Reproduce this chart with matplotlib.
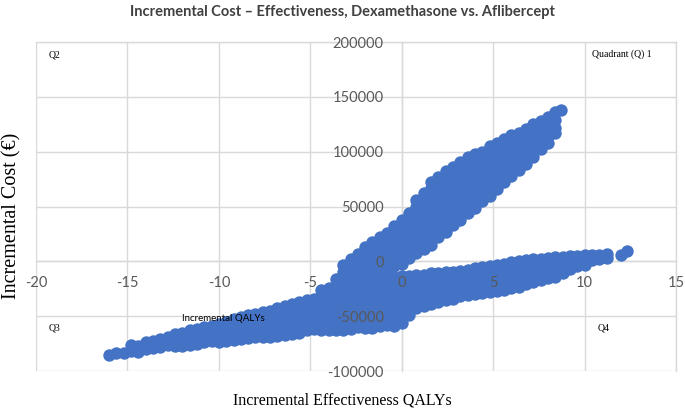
"""
Incremental cost-effectiveness plane, Dexamethasone vs. Aflibercept.
"""

import matplotlib.pyplot as plt

plt.rcParams['axes.unicode_minus'] = False

title = 'Incremental Cost – Effectiveness, Dexamethasone vs. Aflibercept'
label_x = 'Incremental Effectiveness QALYs'
label_y = 'Incremental Cost (€)'

x_ticks = [-20, -15, -10, -5, 0, 5, 10, 15]
y_ticks = [-100000, -50000, 0, 50000, 100000, 150000, 200000]

# steep cloud (upper band), y in thousands of euro per QALY column
steep_x = [-4.4, -4.0, -3.6, -3.2, -2.8, -2.4, -2.0, -1.6, -1.2, -0.8,
           -0.4, 0.0, 0.4, 0.8, 1.2, 1.6, 2.0, 2.4, 2.8, 3.2,
           3.6, 4.0, 4.4, 4.8, 5.2, 5.6, 6.0, 6.4, 6.8, 7.2,
           7.6, 8.0, 8.4, 8.7]
steep_y = [
    [-26],
    [-24, -30],
    [-16, -23, -30],
    [-3, -10, -17, -24],
    [2, -5, -12, -19, -26],
    [7, 0, -7, -14, -21],
    [13, 6, -1, -8, -15, -22],
    [18, 11, 4, -3, -10, -17],
    [22, 15, 8, 1, -6, -13, -20],
    [26, 19, 12, 5, -2, -9, -16],
    [32, 25, 18, 11, 4, -4],
    [38, 31, 24, 17, 10, 3, -2],
    [44, 37, 30, 23, 16, 9, 3],
    [56, 50, 43, 36, 29, 22, 15, 8],
    [62, 55, 48, 41, 34, 27, 19, 11],
    [72, 67, 60, 53, 46, 39, 31, 23, 15],
    [77, 72, 66, 59, 52, 44, 37, 29, 22],
    [82, 77, 71, 64, 57, 49, 42, 34, 27],
    [86, 82, 76, 69, 62, 55, 47, 40, 33],
    [91, 87, 82, 75, 68, 60, 53, 45, 38],
    [95, 92, 87, 80, 73, 65, 58, 51, 44],
    [98, 91, 84, 77, 70, 63, 56, 49],
    [100, 95, 88, 81, 75, 68, 61, 55],
    [105, 100, 93, 86, 80, 73, 66, 60],
    [108, 104, 97, 91, 85, 78, 72, 66],
    [112, 109, 102, 96, 90, 84, 78, 72],
    [115, 113, 107, 101, 95, 89, 83, 78],
    [117, 111, 105, 99, 93, 88, 83],
    [121, 115, 109, 104, 99, 94, 89],
    [125, 119, 113, 108, 103, 99, 95],
    [128, 122, 117, 112, 107, 102],
    [132, 126, 120, 114, 108],
    [136, 129, 122, 117],
    [138],
]

# shallow cloud (lower band)
shallow_x = [-16.0, -15.6, -15.2, -14.8, -14.4, -14.0, -13.6, -13.2, -12.8, -12.4,
             -12.0, -11.6, -11.2, -10.8, -10.4, -10.0, -9.6, -9.2, -8.8, -8.4,
             -8.0, -7.6, -7.2, -6.8, -6.4, -6.0, -5.6, -5.2, -4.8, -4.4,
             -4.0, -3.6, -3.2, -2.8, -2.4, -2.0, -1.6, -1.2, -0.8, -0.4,
             0.0, 0.4, 0.8, 1.2, 1.6, 2.0, 2.4, 2.8, 3.2, 3.6,
             4.0, 4.4, 4.8, 5.2, 5.6, 6.0, 6.4, 6.8, 7.2, 7.6,
             8.0, 8.4, 8.8, 9.2, 9.6, 10.0, 10.4, 10.8, 11.2, 12.0,
             12.3]
shallow_y = [
    [-85], [-84], [-84], [-76, -82], [-77, -83],
    [-74, -80], [-73, -79], [-71, -78], [-69, -76], [-66, -72, -77],
    [-65, -71, -77], [-63, -70, -76], [-62, -69, -75], [-60, -67, -74], [-59, -66, -73],
    [-57, -63, -69, -74], [-55, -61, -67, -73], [-53, -59, -66, -72], [-51, -58, -64, -71],
    [-49, -56, -63, -70],
    [-48, -55, -62, -69], [-46, -52, -58, -64, -69], [-45, -51, -57, -63, -69],
    [-43, -49, -55, -62, -68], [-41, -47, -54, -60, -67],
    [-39, -46, -52, -59, -66], [-37, -44, -51, -58, -65], [-35, -42, -49, -56, -63],
    [-34, -41, -48, -55, -62], [-32, -39, -46, -53, -60, -63],
    [-31, -38, -45, -52, -58, -63], [-30, -37, -44, -51, -57, -63],
    [-28, -35, -42, -49, -56, -63], [-27, -34, -41, -48, -55, -62],
    [-25, -32, -39, -46, -53, -60], [-23, -30, -37, -44, -51, -58, -61],
    [-21, -28, -35, -42, -49, -55, -61], [-19, -26, -33, -40, -47, -53, -59],
    [-16, -23, -30, -37, -44, -51, -58], [-14, -21, -28, -35, -42, -49, -56, -59],
    [-13, -20, -27, -34, -41, -48, -56], [-13, -20, -27, -34, -41, -49],
    [-12, -19, -27, -35, -43], [-12, -19, -26, -34, -41], [-11, -18, -25, -32, -39],
    [-11, -18, -24, -31, -37], [-10, -17, -23, -29, -35], [-10, -16, -22, -28, -34],
    [-9, -15, -21, -27, -32], [-8, -14, -20, -26, -31],
    [-6, -12, -18, -24, -30], [-5, -11, -17, -23, -29], [-4, -10, -16, -22, -28],
    [-3, -9, -15, -21, -27], [-2, -8, -14, -20, -26], [-1, -7, -13, -19, -24],
    [0, -6, -12, -17, -23], [1, -5, -10, -16, -21], [2, -4, -9, -14, -19],
    [2, -4, -9, -13, -17],
    [3, -3, -9, -15], [4, -2, -8, -14], [4, -2, -7, -11], [5, -1, -7], [5, 0, -4],
    [6, 1, -3], [6, 1], [6, 2], [7, 3], [6],
    [9],
]

quadrant_labels = ['Q2', 'Quadrant (Q) 1', 'Q3', 'Q4']

blue = '#4472C4'
grid_color = '#d9d9d9'
tick_color = '#595959'


def flatten(cols_x, cols_y):
    xs, ys = [], []
    for x, col in zip(cols_x, cols_y):
        for v in col:
            xs.append(x)
            ys.append(v * 1000)
    return xs, ys


fig = plt.figure(figsize=(6.85, 4.12), dpi=100)
ax = fig.add_axes([0.0526, 0.0995, 0.9343, 0.7985])

for xv in x_ticks:
    ax.axvline(xv, color=grid_color, lw=1, zorder=0)
for yv in y_ticks:
    ax.axhline(yv, color=grid_color, lw=1, zorder=0)

sx, sy = flatten(steep_x, steep_y)
lx, ly = flatten(shallow_x, shallow_y)
ax.scatter(sx, sy, s=80, color=blue, linewidths=0, zorder=1)
ax.scatter(lx, ly, s=80, color=blue, linewidths=0, zorder=1)

ax.set_xlim(-20, 15)
ax.set_ylim(-100000, 200000)
ax.set_axisbelow(False)

for name, spine in ax.spines.items():
    spine.set_color(grid_color)
    spine.set_linewidth(1)
    spine.set_zorder(0.5)
ax.spines['left'].set_position(('data', 0))
ax.spines['bottom'].set_position(('data', 0))

ax.set_xticks(x_ticks, labels=[str(v) for v in x_ticks])
ax.set_yticks(y_ticks, labels=[str(v) for v in y_ticks])
ax.tick_params(axis='both', length=0, labelsize=10.5, labelcolor=tick_color)
ax.tick_params(axis='x', pad=10.5)
ax.tick_params(axis='y', pad=13)
for lab in ax.get_xticklabels() + ax.get_yticklabels():
    lab.set_family('Lato')

serif = 'Liberation Serif'
ax.text(0.019, 0.962, quadrant_labels[0], transform=ax.transAxes,
        family=serif, fontsize=7, va='center')
ax.text(0.869, 0.962, quadrant_labels[1], transform=ax.transAxes,
        family=serif, fontsize=7, va='center')
ax.text(0.019, 0.131, quadrant_labels[2], transform=ax.transAxes,
        family=serif, fontsize=7, va='center')
ax.text(0.877, 0.131, quadrant_labels[3], transform=ax.transAxes,
        family=serif, fontsize=7, va='center')
ax.text(0.228, 0.161, 'Incremental QALYs', transform=ax.transAxes,
        family='Lato', fontsize=7, va='center', zorder=5)

fig.text(0.5, 0.971, title, ha='center', va='center',
         family='Lato', fontweight='bold', fontsize=10.5, color='#404040')
fig.text(0.5, 0.029, label_x, ha='center', va='center',
         family=serif, fontsize=11.5)
fig.text(0.018, 0.477, label_y, ha='center', va='center', rotation=90,
         family=serif, fontsize=14.5)

fig.savefig('out.png')
